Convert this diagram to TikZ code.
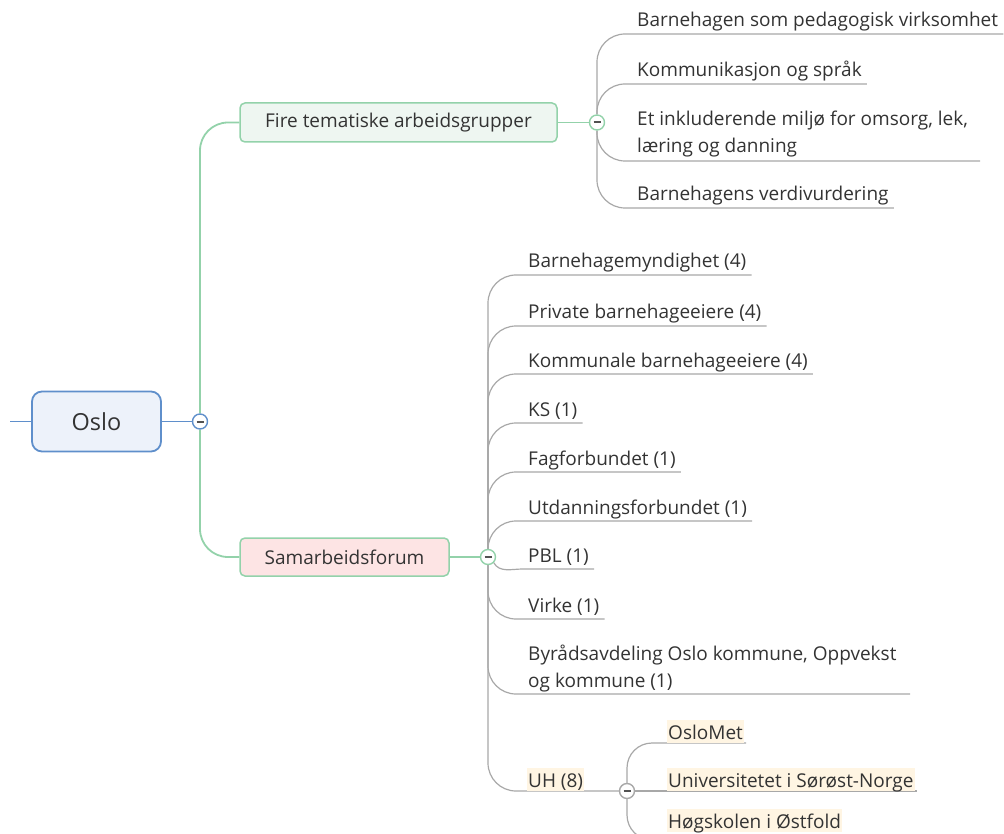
\documentclass[tikz,border=0pt]{standalone}
\usepackage{fontspec}
\setmainfont{Open Sans}
\usetikzlibrary{calc}
\pgfdeclarelayer{background}
\pgfsetlayers{background,main}
\definecolor{txt}{HTML}{333333}
\definecolor{blueln}{HTML}{5F8FCB}
\definecolor{bluefill}{HTML}{EDF2FA}
\definecolor{greenln}{HTML}{93D2AA}
\definecolor{firefill}{HTML}{EEF6F1}
\definecolor{samfill}{HTML}{FDE4E4}
\definecolor{grayln}{HTML}{A8A8A8}
\definecolor{cream}{HTML}{FFF5E3}
\tikzset{
  leaf/.style={anchor=base west, inner sep=0pt, text=txt, font=\fontsize{19}{27}\selectfont},
  hleaf/.style={leaf, fill=cream, inner xsep=1pt, text height=19pt, text depth=4pt},
  rootbox/.style={draw=blueln, fill=bluefill, line width=1.8pt, rounded corners=10pt,
    minimum width=129pt, minimum height=60pt, text=txt, font=\fontsize{23.5}{28}\selectfont},
  mainbox/.style={draw=greenln, line width=1.5pt, rounded corners=5pt, text=txt,
    font=\fontsize{19}{27}\selectfont},
  toggle/.style={circle, minimum size=15pt, inner sep=0pt, fill=white, line width=1.4pt,
    path picture={\draw[line width=2pt, txt!85] ([xshift=-3.5pt]path picture bounding box.center) -- ([xshift=3.5pt]path picture bounding box.center);}},
  blueline/.style={draw=blueln, line width=1.8pt},
  greenline/.style={draw=greenln, line width=1.8pt},
  grayline/.style={draw=grayln, line width=1.2pt},
}
\begin{document}
\begin{tikzpicture}[x=1pt,y=-1pt]
\useasboundingbox (0,0) rectangle (1004,834);

% main nodes
\node[rootbox] (oslo) at (96.5,421.5) {Oslo};
\coordinate (lft) at (10,421.5);
\node[mainbox, fill=firefill, minimum width=317pt, minimum height=39pt] (fire) at (398.5,122.5) {Fire tematiske arbeidsgrupper};
\node[mainbox, fill=samfill, minimum width=209pt, minimum height=38pt] (sam) at (344.5,557) {Samarbeidsforum};

% leaves of Fire tematiske arbeidsgrupper
\node[leaf] (f1) at (637,27) {Barnehagen som pedagogisk virksomhet};
\node[leaf] (f2) at (637,77) {Kommunikasjon og språk};
\node[leaf, align=left] (f3) at (637,153) {Et inkluderende miljø for omsorg, lek,\\læring og danning};
\node[leaf] (f4) at (637,201) {Barnehagens verdivurdering};
\coordinate (f1u) at ($(f1.base east)+(5,7)$);
\coordinate (f2u) at ($(f2.base east)+(5,7)$);
\coordinate (f3u) at (980,161);
\coordinate (f4u) at ($(f4.base east)+(5,7)$);

% leaves of Samarbeidsforum
\node[leaf] (s1) at (528,268) {Barnehagemyndighet (4)};
\node[leaf] (s2) at (528,319) {Private barnehageeiere (4)};
\node[leaf] (s3) at (528,367) {Kommunale barnehageeiere (4)};
\node[leaf] (s4) at (528,416) {KS (1)};
\node[leaf] (s5) at (528,465) {Fagforbundet (1)};
\node[leaf] (s6) at (528,514) {Utdanningsforbundet (1)};
\node[leaf] (s7) at (528,562) {PBL (1)};
\node[leaf] (s8) at (528,612) {Virke (1)};
\node[leaf, align=left] (s9) at (528,687) {Byrådsavdeling Oslo kommune, Oppvekst\\og kommune (1)};
\node[hleaf] (uh) at (527,787) {UH (8)};
\foreach \n in {1,...,8} {\coordinate (s\n u) at ($(s\n.base east)+(5,7)$);}
\coordinate (s9u) at (910,694);

% leaves of UH
\node[hleaf] (o1) at (667,739) {OsloMet};
\node[hleaf] (o2) at (667,787) {Universitetet i Sørøst-Norge};
\node[hleaf] (o3) at (667,828) {Høgskolen i Østfold};
\coordinate (o1u) at ($(o1.base east)+(2,4)$);
\coordinate (o2u) at ($(o2.base east)+(2,4)$);
\coordinate (o3u) at ($(o3.base east)+(2,12)$);

% toggles
\node[toggle, draw=blueln] (co) at (200,421.5) {};
\node[toggle, draw=greenln] (cf) at (597,122.5) {};
\node[toggle, draw=greenln] (cs) at (488,557) {};
\node[toggle, draw=grayln] (cu) at (627,791) {};

% connectors (behind everything)
\begin{pgfonlayer}{background}
\draw[blueline] (lft) -- (oslo.west);
\draw[blueline] (oslo.east) -- (co);
\draw[greenline, rounded corners=28pt] (co) |- (fire.west);
\draw[greenline, rounded corners=28pt] (co) |- (sam.west);
\draw[greenline] (fire.east) -- (cf);
\draw[greenline] (sam.east) -- (cs);
\foreach \u in {f1u,f2u,f3u,f4u} {\draw[grayline, rounded corners=28pt] (cf) |- (\u);}
\foreach \u in {s1u,s2u,s3u,s4u,s5u,s6u,s8u,s9u} {\draw[grayline, rounded corners=28pt] (cs) |- (\u);}
\draw[grayline] (cs.south east) to[out=-60,in=180] ($(cs.center)+(35,12)$) -- (s7u);
\draw[grayline, rounded corners=28pt] (cs) |- (cu);
\draw[grayline, rounded corners=25pt] (cu) |- (o1u);
\draw[grayline] (cu) -- (o2u);
\draw[grayline, rounded corners=25pt] (cu) |- (o3u);
\end{pgfonlayer}
\end{tikzpicture}
\end{document}
